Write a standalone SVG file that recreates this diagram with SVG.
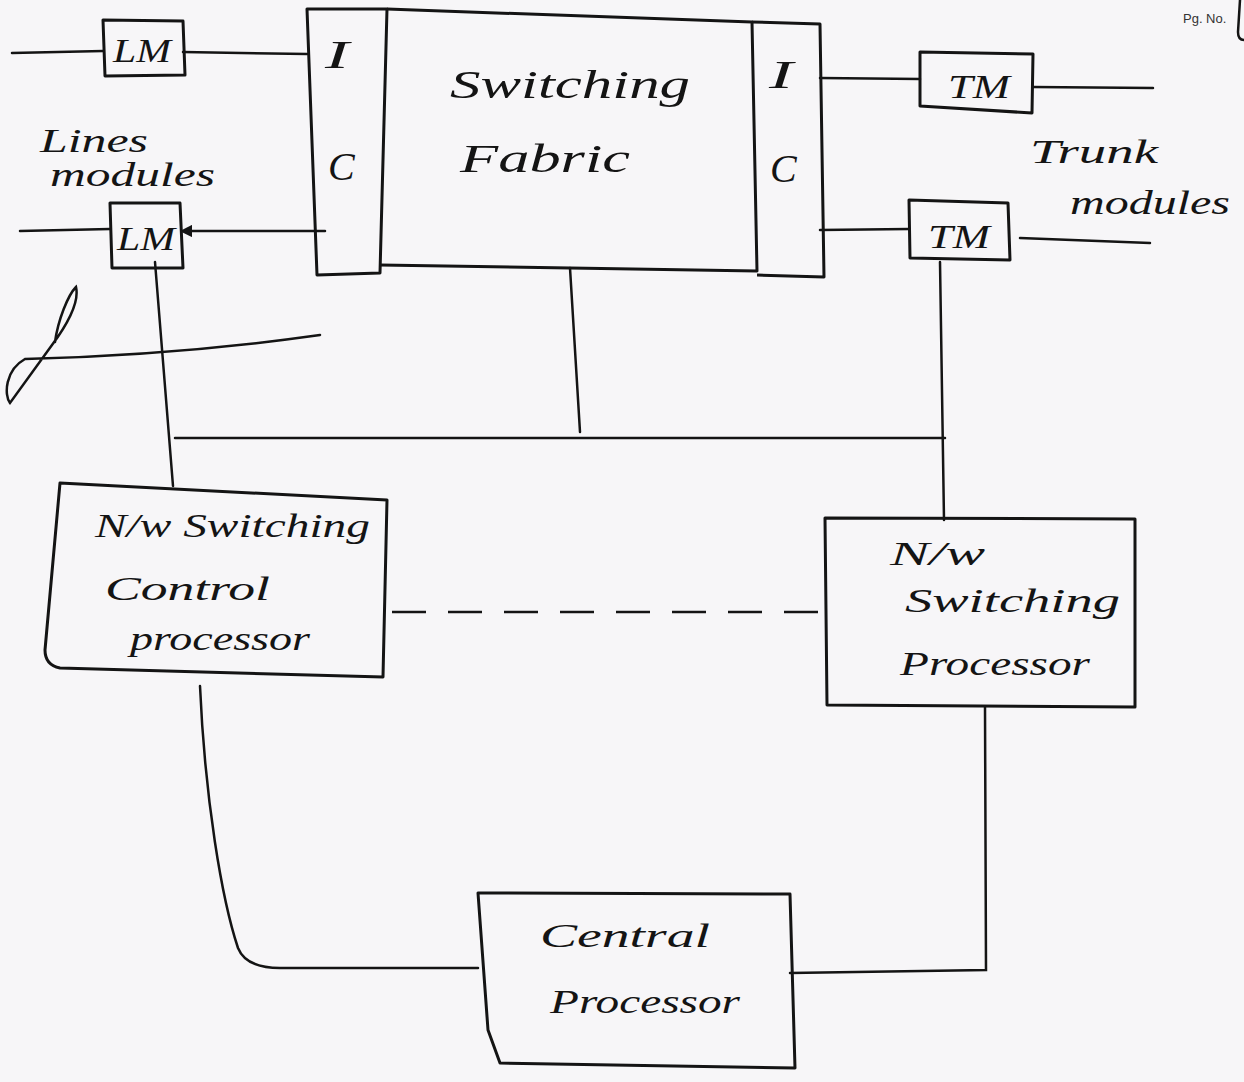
<svg xmlns="http://www.w3.org/2000/svg" width="1244" height="1082" viewBox="0 0 1244 1082">
<defs>
<style>
.bg{fill:#f7f6f8}
.box{fill:none;stroke:#141414;stroke-width:3;stroke-linejoin:round}
.ln{fill:none;stroke:#141414;stroke-width:2.5;stroke-linecap:round}
.dash{fill:none;stroke:#141414;stroke-width:2.5;stroke-dasharray:34 22}
.t{font-family:"Liberation Serif",serif;font-style:italic;fill:#141414}
.big{font-size:40px}
.mid{font-size:34px}
.sm{font-family:"Liberation Sans",sans-serif;font-size:13px;fill:#333}
</style>
<marker id="ah" viewBox="0 0 10 10" refX="5" refY="5" markerWidth="5" markerHeight="5" orient="auto-start-reverse">
<path d="M0,0 L10,5 L0,10 z" fill="#141414"/>
</marker>
</defs>
<rect class="bg" width="1244" height="1082"/>

<g id="connectors">
<path class="ln" d="M12,53 L103,51"/>
<path class="ln" d="M183,52 L307,54"/>
<path class="ln" d="M20,231 L110,229"/>
<path class="ln" d="M325,231 L186,231" marker-end="url(#ah)"/>
<path class="ln" d="M155,262 L173,486"/>
<path class="ln" d="M820,78 L920,79"/>
<path class="ln" d="M1033,87 L1153,88"/>
<path class="ln" d="M820,230 L909,229"/>
<path class="ln" d="M1020,238 L1150,243"/>
<path class="ln" d="M940,262 L944,520"/>
<path class="ln" d="M570,268 L580,432"/>
<path class="ln" d="M175,438 L945,438"/>
<path class="dash" d="M392,612 L825,612"/>
<path class="ln" d="M200,686 C205,800 222,900 238,948 Q246,968 280,968 L478,968"/>
<path class="ln" d="M985,707 L986,970 L790,973"/>
<path class="ln" d="M55,342 C58,320 68,295 76,287 C79,300 72,318 52,345 L10,403 C4,395 5,370 25,359 C100,357 200,352 320,335"/>
</g>

<g id="ic-left">
<path class="box" d="M307,9 L387,9 L380,273 L317,275 Z"/>
<text class="t big" x="325" y="68" textLength="24" lengthAdjust="spacingAndGlyphs">I</text>
<text class="t big" x="328" y="180">C</text>
</g>

<g id="switching-fabric">
<path class="box" d="M387,9 L752,22 L757,271 L380,265"/>
<text class="t big" x="450" y="98" textLength="240" lengthAdjust="spacingAndGlyphs">Switching</text>
<text class="t big" x="460" y="172" textLength="170" lengthAdjust="spacingAndGlyphs">Fabric</text>
</g>

<g id="ic-right">
<path class="box" d="M752,22 L820,24 L824,277 L757,275"/>
<text class="t big" x="769" y="88" textLength="24" lengthAdjust="spacingAndGlyphs">I</text>
<text class="t big" x="770" y="182">C</text>
</g>

<g id="lm-top">
<path class="box" d="M103,20 L183,21 L185,75 L105,76 Z"/>
<text class="t mid" x="113" y="62" textLength="58" lengthAdjust="spacingAndGlyphs">LM</text>
</g>

<g id="lm-bottom">
<path class="box" d="M110,203 L180,203 L183,268 L112,268 Z"/>
<text class="t mid" x="117" y="250" textLength="58" lengthAdjust="spacingAndGlyphs">LM</text>
</g>

<g id="lines-modules-label">
<text class="t mid" x="40" y="152" textLength="108" lengthAdjust="spacingAndGlyphs">Lines</text>
<text class="t mid" x="50" y="186" textLength="165" lengthAdjust="spacingAndGlyphs">modules</text>
</g>

<g id="tm-top">
<path class="box" d="M920,52 L1033,54 L1032,113 L920,106 Z"/>
<text class="t mid" x="948" y="98" textLength="62" lengthAdjust="spacingAndGlyphs">TM</text>
</g>

<g id="tm-bottom">
<path class="box" d="M909,200 L1008,203 L1010,260 L910,258 Z"/>
<text class="t mid" x="928" y="248" textLength="62" lengthAdjust="spacingAndGlyphs">TM</text>
</g>

<g id="trunk-modules-label">
<text class="t mid" x="1030" y="163" textLength="128" lengthAdjust="spacingAndGlyphs">Trunk</text>
<text class="t mid" x="1070" y="214" textLength="160" lengthAdjust="spacingAndGlyphs">modules</text>
</g>

<g id="nw-switching-control-processor">
<path class="box" d="M60,483 L387,500 L383,677 L60,668 Q45,665 45,650 Z"/>
<text class="t mid" x="95" y="537" textLength="275" lengthAdjust="spacingAndGlyphs">N/w Switching</text>
<text class="t mid" x="105" y="600" textLength="165" lengthAdjust="spacingAndGlyphs">Control</text>
<text class="t mid" x="130" y="650" textLength="180" lengthAdjust="spacingAndGlyphs">processor</text>
</g>

<g id="nw-switching-processor">
<path class="box" d="M825,518 L1135,519 L1135,707 L827,705 Z"/>
<text class="t mid" x="890" y="565" textLength="95" lengthAdjust="spacingAndGlyphs">N/w</text>
<text class="t mid" x="905" y="612" textLength="215" lengthAdjust="spacingAndGlyphs">Switching</text>
<text class="t mid" x="900" y="675" textLength="190" lengthAdjust="spacingAndGlyphs">Processor</text>
</g>

<g id="central-processor">
<path class="box" d="M478,893 L790,894 L795,1068 L500,1063 L488,1030 Z"/>
<text class="t mid" x="540" y="947" textLength="170" lengthAdjust="spacingAndGlyphs">Central</text>
<text class="t mid" x="550" y="1013" textLength="190" lengthAdjust="spacingAndGlyphs">Processor</text>
</g>

<g id="page-mark">
<text class="sm" x="1183" y="23">Pg. No.</text>
<path class="ln" d="M1240,0 L1238,32 Q1238,40 1244,40" stroke-width="1.5"/>
</g>
</svg>
